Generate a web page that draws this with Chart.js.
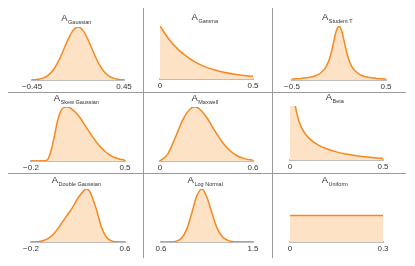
<!DOCTYPE html>
<html>
<head>
<meta charset="utf-8">
<script src="https://cdn.jsdelivr.net/npm/chart.js@4"></script>
<style>
  body { margin: 0; background: #fff; }
  #wrap { position: relative; width: 415px; height: 266px; overflow: hidden; }
  #wrap canvas { position: absolute; }
  .rule { position: absolute; background: #9a9a9a; }
</style>
</head>
<body>
<div id="wrap">
  <div class="rule" style="left:143px;top:8px;width:1px;height:250px"></div>
  <div class="rule" style="left:272px;top:8px;width:1px;height:250px"></div>
  <div class="rule" style="left:8px;top:92px;width:398px;height:1px"></div>
  <div class="rule" style="left:8px;top:173px;width:398px;height:1px"></div>
</div>
<script>
// densities (peak = 1)
const gaussX = [-0.45, -0.4, -0.35, -0.3, -0.25, -0.2, -0.15, -0.1, -0.05, 0, 0.05, 0.1, 0.15, 0.2, 0.25, 0.3, 0.35, 0.4, 0.45];
const gaussY = [0.003, 0.011, 0.031, 0.079, 0.171, 0.323, 0.529, 0.754, 0.932, 1, 0.932, 0.754, 0.529, 0.323, 0.171, 0.079, 0.031, 0.011, 0.003];

const gammaX = [0, 0.05, 0.1, 0.15, 0.2, 0.25, 0.3, 0.35, 0.4, 0.45, 0.5];
const gammaY = [1, 0.74, 0.55, 0.41, 0.3, 0.22, 0.165, 0.122, 0.09, 0.067, 0.05];

const studentX = [-0.5, -0.45, -0.4, -0.35, -0.3, -0.25, -0.2, -0.15, -0.125, -0.1, -0.075, -0.05, -0.025, 0,
  0.025, 0.05, 0.075, 0.1, 0.125, 0.15, 0.2, 0.25, 0.3, 0.35, 0.4, 0.45, 0.5];
const studentY = [0.018, 0.023, 0.03, 0.04, 0.055, 0.08, 0.125, 0.21, 0.29, 0.4, 0.56, 0.76, 0.93, 1,
  0.93, 0.76, 0.56, 0.4, 0.29, 0.21, 0.125, 0.08, 0.055, 0.04, 0.03, 0.023, 0.018];

const skewX = [-0.2, -0.15, -0.1, -0.075, -0.05, -0.025, 0, 0.025, 0.05, 0.075, 0.1, 0.15, 0.2, 0.25, 0.3, 0.35, 0.4, 0.45, 0.5];
const skewY = [0, 0, 0.005, 0.03, 0.2, 0.47, 0.77, 0.94, 0.995, 1, 0.97, 0.85, 0.67, 0.48, 0.31, 0.18, 0.09, 0.04, 0.015];

const maxwellX = [0, 0.05, 0.1, 0.15, 0.2, 0.225, 0.25, 0.3, 0.35, 0.4, 0.45, 0.5, 0.55, 0.6];
const maxwellY = [0, 0.129, 0.444, 0.779, 0.976, 1, 0.974, 0.811, 0.578, 0.357, 0.194, 0.093, 0.039, 0.015];

const betaX = [0, 0.01, 0.02, 0.03, 0.04, 0.05, 0.075, 0.1, 0.15, 0.2, 0.25, 0.3, 0.35, 0.4, 0.45, 0.5];
const betaY = [3, 2.5, 1.3, 0.98, 0.82, 0.7, 0.52, 0.41, 0.28, 0.205, 0.15, 0.11, 0.083, 0.06, 0.043, 0.028];

const doubleX = [-0.2, -0.15, -0.1, -0.05, 0, 0.05, 0.1, 0.15, 0.2, 0.25, 0.275, 0.3, 0.35, 0.4, 0.45, 0.5, 0.55, 0.6];
const doubleY = [0, 0.005, 0.022, 0.072, 0.17, 0.32, 0.48, 0.64, 0.83, 0.97, 1, 0.95, 0.66, 0.28, 0.07, 0.012, 0.002, 0];

const lognX = [0.6, 0.65, 0.7, 0.75, 0.8, 0.85, 0.9, 0.95, 1, 1.05, 1.1, 1.15, 1.2, 1.25, 1.3, 1.35, 1.4, 1.45, 1.5];
const lognY = [0, 0, 0.002, 0.016, 0.072, 0.233, 0.536, 0.87, 1, 0.84, 0.536, 0.257, 0.1, 0.035, 0.01, 0.003, 0.001, 0, 0];

const uniformX = [0, 0.3];
const uniformY = [1, 1];

const gaussTicks = ["\u22120.45", "0.45"];
const gammaTicks = ["0", "0.5"];
const studentTicks = ["\u22120.5", "0.5"];
const skewTicks = ["\u22120.2", "0.5"];
const maxwellTicks = ["0", "0.6"];
const betaTicks = ["0", "0.5"];
const doubleTicks = ["\u22120.2", "0.6"];
const lognTicks = ["0.6", "1.5"];
const uniformTicks = ["0", "0.3"];

// box = [axis left, axis right, plot top, baseline] in page pixels
const panels = [
  { sub: "Gaussian", xs: gaussX, ys: gaussY, ticks: gaussTicks, yMax: 1, box: [32, 124, 27, 80] },
  { sub: "Gamma", xs: gammaX, ys: gammaY, ticks: gammaTicks, yMax: 1, box: [160, 253, 26, 79] },
  { sub: "Student T", xs: studentX, ys: studentY, ticks: studentTicks, yMax: 1, box: [292, 386, 26, 80] },
  { sub: "Skew Gaussian", xs: skewX, ys: skewY, ticks: skewTicks, yMax: 1, box: [31, 125, 107, 161] },
  { sub: "Maxwell", xs: maxwellX, ys: maxwellY, ticks: maxwellTicks, yMax: 1, box: [160, 253, 107, 161] },
  { sub: "Beta", xs: betaX, ys: betaY, ticks: betaTicks, yMax: 1, box: [290, 383, 106, 160] },
  { sub: "Double Gaussian", xs: doubleX, ys: doubleY, ticks: doubleTicks, yMax: 1, box: [31, 125, 189, 242] },
  { sub: "Log Normal", xs: lognX, ys: lognY, ticks: lognTicks, yMax: 1, box: [161, 253, 189, 242] },
  { sub: "Uniform", xs: uniformX, ys: uniformY, ticks: uniformTicks, yMax: 2, box: [290, 383, 189, 242] },
];

const FONT = "'Liberation Sans', Arial, sans-serif";

// "A" with the distribution name as subscript
const subTitle = {
  id: "subTitle",
  afterDraw(chart, args, opts) {
    const { ctx, chartArea } = chart;
    ctx.save();
    ctx.fillStyle = "#333";
    ctx.textBaseline = "alphabetic";
    ctx.font = "9.5px " + FONT;
    const wA = ctx.measureText("A").width;
    ctx.font = "5.5px " + FONT;
    const wS = ctx.measureText(opts.text).width;
    const x = (chartArea.left + chartArea.right) / 2 - (wA + wS) / 2 - 2;
    const y = chartArea.top - 6;
    ctx.font = "9.5px " + FONT;
    ctx.fillText("A", x, y);
    ctx.font = "5.5px " + FONT;
    ctx.fillText(opts.text, x + wA + 0.5, y + 2.5);
    ctx.restore();
  },
};

const wrap = document.getElementById("wrap");

panels.forEach((p) => {
  const [x0, x1, top, base] = p.box;
  const c = document.createElement("canvas");
  c.width = x1 - x0 + 40;
  c.height = base - top + 20 + 14;
  c.style.left = x0 - 20 + "px";
  c.style.top = top - 20 + "px";
  wrap.appendChild(c);

  new Chart(c, {
    type: "line",
    data: {
      datasets: [
        {
          data: p.xs.map((x, i) => ({ x: x, y: p.ys[i] })),
          borderColor: "#f5891f",
          backgroundColor: "#fde2c6",
          fill: "origin",
          borderWidth: 1.5,
          pointRadius: 0,
          cubicInterpolationMode: "monotone",
        },
      ],
    },
    options: {
      responsive: false,
      animation: false,
      events: [],
      layout: { padding: { left: 20, right: 20, top: 20, bottom: 2 } },
      plugins: {
        legend: { display: false },
        tooltip: { enabled: false },
        subTitle: { text: p.sub },
      },
      scales: {
        x: {
          type: "linear",
          min: p.xs[0],
          max: p.xs[p.xs.length - 1],
          grid: { display: false, drawTicks: false },
          border: { display: true, color: "#bdbdbd", width: 2 },
          ticks: {
            font: { family: FONT, size: 8 },
            color: "#333",
            padding: 2,
            maxRotation: 0,
            autoSkip: false,
            callback: (v, i) => p.ticks[i],
          },
          afterBuildTicks: (s) => {
            s.ticks = [{ value: s.min }, { value: s.max }];
          },
          afterFit: (s) => {
            s.height = 12;
          },
        },
        y: { display: false, min: 0, max: p.yMax },
      },
    },
    plugins: [subTitle],
  });
});
</script>
</body>
</html>
